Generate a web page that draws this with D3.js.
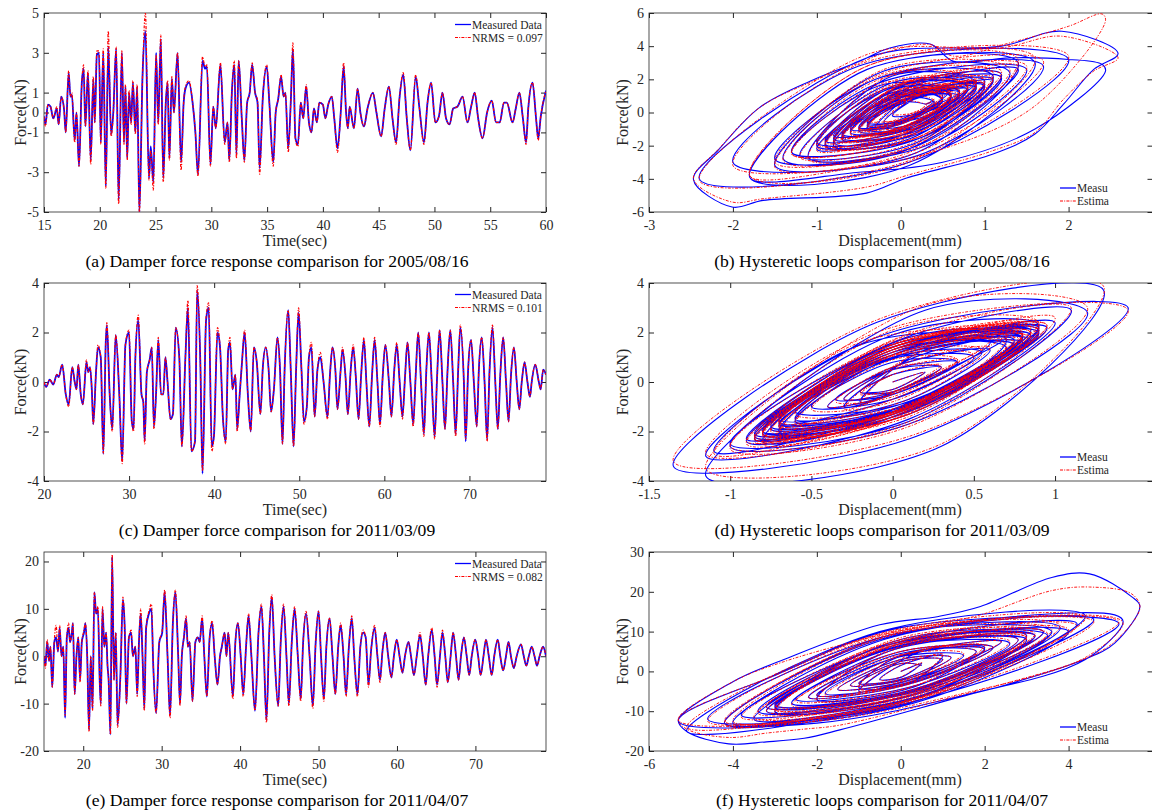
<!DOCTYPE html>
<html>
<head>
<meta charset="utf-8">
<script src="https://cdn.jsdelivr.net/npm/d3@7"></script>
<style>
  body { margin: 0; background: #fff; }
  svg { display: block; }
</style>
</head>
<body>
<svg id="chart" width="1152" height="811"></svg>
<script>
// ---- data: damper force time histories, rows are [time(s), measured kN, estimated kN]
const force0816 = [
[15.00,-0.2,-0.2],[15.13,-0.6,-0.7],[15.35,0.4,0.4],[15.58,0.3,0.3],[15.83,-0.3,-0.3],
[16.15,0.2,0.3],[16.31,-0.6,-0.6],[16.54,0.8,0.8],[16.79,0.2,0.2],[16.95,-1.0,-1.0],
[17.21,2.0,2.1],[17.37,0.8,0.8],[17.50,0.9,1.0],[17.75,-1.4,-1.5],[17.91,0.0,0.0],
[18.14,-2.7,-2.7],[18.39,1.5,1.5],[18.55,2.2,2.4],[18.71,-0.7,-0.7],[18.94,2.0,2.1],
[19.19,-2.4,-2.6],[19.42,1.7,1.8],[19.55,-0.5,-0.5],[19.74,2.9,3.1],[19.93,3.0,3.1],
[20.09,-1.5,-1.6],[20.31,3.0,3.2],[20.54,-3.7,-3.8],[20.76,3.3,4.1],[21.02,-1.1,-1.2],
[21.21,0.0,-0.1],[21.47,3.2,3.3],[21.69,-4.4,-4.6],[21.98,3.0,3.1],[22.17,-1.5,-1.6],
[22.30,1.3,1.4],[22.46,-2.3,-2.4],[22.62,1.0,1.1],[22.81,-0.5,-0.6],[22.97,1.5,1.6],
[23.19,-1.0,-1.1],[23.35,1.3,1.4],[23.55,-5.0,-5.0],[23.83,1.8,1.8],[24.09,4.1,5.0],
[24.41,-3.3,-3.4],[24.57,-1.7,-1.9],[24.80,-3.5,-3.9],[25.05,3.0,2.9],[25.24,-0.5,-0.6],
[25.47,3.7,3.9],[25.69,-3.3,-3.5],[25.92,0.5,0.5],[26.08,1.5,1.6],[26.24,-2.3,-2.4],
[26.46,1.7,1.8],[26.65,0.0,0.0],[26.97,3.0,3.0],[27.29,-2.5,-2.9],[27.52,0.5,0.5],
[27.68,1.2,1.3],[28.00,1.5,1.6],[28.32,0.5,0.5],[28.57,-1.0,-1.0],[28.80,-3.1,-3.2],
[29.21,2.6,2.8],[29.44,2.2,2.3],[29.60,2.3,2.4],[29.92,-2.6,-2.7],[30.17,0.3,0.3],
[30.40,-0.8,-0.8],[30.81,2.4,2.5],[31.20,-1.5,-1.6],[31.45,-0.5,-0.5],[31.61,-2.4,-2.5],
[31.84,1.0,1.0],[32.06,2.4,2.6],[32.25,-2.1,-2.3],[32.45,2.6,2.6],[32.73,-0.3,-0.3],
[32.96,-2.4,-2.5],[33.21,0.5,0.5],[33.44,1.0,1.0],[33.66,2.4,2.5],[33.92,1.0,1.0],
[34.14,0.5,0.6],[34.33,-2.8,-3.1],[34.62,0.8,0.8],[34.97,2.3,2.4],[35.20,0.5,0.5],
[35.55,-2.5,-2.7],[35.77,0.0,0.0],[36.00,0.7,0.7],[36.25,1.8,1.9],[36.48,0.8,0.8],
[36.64,1.0,1.0],[36.89,-1.8,-2.0],[37.12,0.5,0.5],[37.31,3.2,3.5],[37.54,-1.3,-1.4],
[37.76,-1.6,-1.7],[38.02,0.5,0.5],[38.24,-0.3,-0.3],[38.50,1.3,1.4],[38.75,-0.5,-0.5],
[38.98,-1.0,-1.0],[39.20,0.2,0.2],[39.46,-0.5,-0.5],[39.68,0.5,0.5],[40.00,0.4,0.4],
[40.22,-0.3,-0.3],[40.48,0.4,0.4],[40.80,0.8,0.8],[41.02,-0.3,-0.3],[41.31,-1.8,-2.0],
[41.60,0.0,0.0],[41.86,2.3,2.5],[42.08,0.0,0.0],[42.24,-0.8,-0.8],[42.40,0.3,0.3],
[42.78,-0.8,-0.8],[43.11,1.2,1.2],[43.36,0.0,0.0],[43.68,-0.7,-0.7],[44.00,0.2,0.2],
[44.48,1.0,1.0],[44.80,0.0,0.0],[45.22,-1.2,-1.2],[45.54,0.2,0.2],[45.92,1.3,1.3],
[46.24,-0.3,-0.3],[46.56,-1.5,-1.6],[46.88,0.8,0.8],[47.20,1.9,2.0],[47.52,-0.3,-0.3],
[47.84,-1.9,-1.9],[48.32,1.8,1.9],[48.64,0.3,0.3],[49.06,-1.5,-1.6],[49.38,0.5,0.5],
[49.70,1.5,1.5],[50.08,-0.5,-0.5],[50.40,-0.2,-0.2],[50.72,1.0,1.0],[51.04,-0.3,-0.3],
[51.36,-0.6,-0.6],[51.68,0.2,0.2],[52.07,0.3,0.3],[52.52,0.8,0.8],[52.96,-0.5,-0.5],
[53.29,0.3,0.3],[53.61,1.0,1.0],[53.92,-0.3,-0.3],[54.31,-1.3,-1.3],[54.72,0.0,0.0],
[55.14,0.6,0.6],[55.52,-0.5,-0.5],[55.85,-0.5,-0.5],[56.23,0.5,0.5],[56.49,0.5,0.5],
[57.00,-0.5,-0.5],[57.29,0.2,0.2],[57.61,1.0,1.0],[57.93,-0.3,-0.3],[58.21,-1.5,-1.6],
[58.41,0.2,0.2],[58.79,1.5,1.5],[59.11,-0.3,-0.3],[59.30,-1.3,-1.4],[59.53,-0.2,-0.2],
[60.00,1.1,1.1]
];

const force0309 = [
[20.00,0.0,0.0],[20.25,-0.2,-0.2],[20.67,0.1,0.1],[21.09,-0.1,-0.1],[21.51,0.3,0.3],
[21.72,0.2,0.2],[22.14,0.7,0.7],[22.56,-0.5,-0.5],[22.90,-0.9,-1.0],[23.32,0.6,0.6],
[23.61,0.0,0.0],[23.82,-0.3,-0.3],[24.03,0.7,0.7],[24.32,-0.5,-0.5],[24.57,-0.9,-0.9],
[24.99,0.8,0.9],[25.20,0.4,0.4],[25.41,0.6,0.6],[25.62,-0.3,-0.3],[25.79,-1.7,-1.7],
[26.13,0.5,0.5],[26.34,1.4,1.5],[26.67,1.0,1.0],[26.97,-2.9,-2.9],[27.26,1.6,1.6],
[27.39,2.3,2.4],[27.72,-0.5,-0.5],[28.02,-1.9,-2.0],[28.43,1.9,1.9],[28.85,-0.5,-0.5],
[29.19,-3.2,-3.3],[29.57,1.5,1.5],[29.99,2.0,2.1],[30.32,-1.6,-1.6],[30.53,-1.9,-2.0],
[30.74,1.0,1.0],[31.08,2.5,2.7],[31.46,-0.5,-0.5],[31.67,-0.8,-0.8],[31.83,-2.4,-2.5],
[32.09,0.4,0.4],[32.42,0.9,0.9],[32.67,1.4,1.4],[32.92,-1.8,-1.9],[33.18,-0.4,-0.4],
[33.43,1.7,1.8],[33.76,-0.5,-0.5],[34.02,-0.5,-0.5],[34.27,1.0,1.0],[34.52,0.0,0.0],
[34.86,-1.5,-1.5],[35.15,-1.3,-1.3],[35.48,2.2,2.2],[35.90,1.0,1.0],[36.20,-2.6,-2.6],
[36.62,1.0,1.0],[36.91,3.0,3.3],[37.33,-2.8,-2.8],[37.75,-2.4,-2.4],[38.00,3.7,3.9],
[38.38,0.7,0.7],[38.63,-3.7,-3.6],[39.05,2.5,2.6],[39.35,3.0,3.2],[39.72,-2.6,-2.8],
[39.97,-2.2,-2.2],[40.39,2.0,2.2],[40.69,1.4,1.4],[41.02,-1.4,-1.4],[41.36,-2.4,-2.5],
[41.65,1.3,1.3],[41.86,1.6,1.8],[42.16,-0.3,-0.3],[42.49,0.3,0.3],[42.70,-1.9,-2.0],
[43.00,-0.5,-0.5],[43.25,0.7,0.7],[43.58,2.0,2.1],[43.96,-0.5,-0.5],[44.30,-2.0,-2.0],
[44.67,1.4,1.4],[45.01,0.8,0.8],[45.43,-1.3,-1.3],[45.72,0.6,0.6],[46.06,1.4,1.4],
[46.40,0.5,0.5],[46.69,-1.2,-1.2],[47.02,-0.3,-0.3],[47.44,1.8,1.8],[47.74,0.5,0.5],
[48.03,-2.5,-2.5],[48.28,0.5,0.5],[48.70,2.9,2.9],[49.00,0.5,0.5],[49.33,-2.6,-2.6],
[49.63,0.5,0.5],[49.92,2.8,3.0],[50.26,0.5,0.5],[50.55,-1.6,-1.7],[50.89,-1.0,-1.0],
[51.14,1.0,1.0],[51.43,1.4,1.6],[51.81,-1.4,-1.4],[52.14,0.5,0.5],[52.48,1.0,1.2],
[52.86,0.0,0.0],[53.32,-1.4,-1.5],[53.61,0.3,0.3],[53.91,1.4,1.4],[54.24,0.5,0.5],
[54.49,-1.1,-1.1],[54.87,0.5,0.5],[55.08,1.3,1.4],[55.42,0.3,0.3],[55.71,-1.3,-1.3],
[56.05,0.5,0.5],[56.34,1.4,1.5],[56.63,0.3,0.3],[56.97,-1.5,-1.5],[57.26,0.2,0.2],
[57.60,1.7,1.8],[57.89,0.0,0.0],[58.23,-1.8,-1.8],[58.56,0.3,0.3],[58.86,1.7,1.8],
[59.19,0.0,0.0],[59.49,-1.7,-1.8],[59.82,0.3,0.3],[60.12,1.5,1.5],[60.54,0.0,0.0],
[60.83,-1.4,-1.4],[61.17,0.5,0.5],[61.46,1.5,1.6],[61.80,0.0,0.0],[62.13,-1.4,-1.5],
[62.43,0.2,0.2],[62.72,1.6,1.6],[63.06,0.0,0.0],[63.39,-1.7,-1.8],[63.69,0.3,0.3],
[63.98,2.0,2.0],[64.31,0.0,0.0],[64.65,-2.1,-2.2],[64.94,0.5,0.5],[65.24,2.0,2.0],
[65.57,0.0,0.0],[65.91,-2.2,-2.3],[66.20,0.2,0.2],[66.50,2.1,2.1],[66.83,0.0,0.0],
[67.13,-1.9,-1.9],[67.42,0.4,0.4],[67.75,2.1,2.1],[68.09,0.0,0.0],[68.38,-2.1,-2.2],
[68.68,0.5,0.5],[68.93,2.2,2.3],[69.35,0.0,0.0],[69.56,-2.4,-2.3],[69.85,0.5,0.5],
[70.19,1.7,1.7],[70.52,0.0,0.0],[70.86,-1.8,-1.8],[71.11,0.5,0.5],[71.45,1.8,1.8],
[71.78,0.0,0.0],[72.08,-2.3,-2.4],[72.37,0.5,0.5],[72.71,2.2,2.3],[73.04,0.0,0.0],
[73.34,-1.9,-1.9],[73.63,0.3,0.3],[73.97,1.8,1.8],[74.30,0.0,0.0],[74.60,-1.6,-1.6],
[74.89,0.3,0.3],[75.23,1.4,1.4],[75.56,0.0,0.0],[75.86,-1.1,-1.1],[76.15,0.0,0.0],
[76.48,0.8,0.8],[76.82,0.0,0.0],[77.11,-0.6,-0.6],[77.32,0.0,0.0],[77.74,0.7,0.7],
[78.16,0.0,0.0],[78.37,-0.3,-0.3],[78.67,0.5,0.5],[79.00,0.3,0.3]
];

const force0407 = [
[15.00,0,0],[15.18,-2,-2.5],[15.41,3,3.5],[15.64,-1,-1],[15.82,2,2],[16.05,-6.5,-6.5],
[16.32,3,3.5],[16.55,4,6.5],[16.78,1,1],[17.00,6,6.5],[17.23,0,0],[17.46,2,2],
[17.69,-13,-12.5],[17.91,4,4],[18.14,6,7],[18.32,3,3],[18.55,5,5],[18.69,7,7],
[18.91,-8,-8],[19.14,0,0],[19.37,4,4],[19.60,-5,-5.5],[19.82,3,3],[20.10,5,5.5],
[20.28,7,7],[20.51,0,0],[20.74,-15.5,-16],[20.96,0,0],[21.19,-11,-11.5],[21.42,13.5,13.5],
[21.65,9,9],[21.87,10,10.5],[22.10,-5,-5],[22.24,-10,-10.5],[22.46,10,10.5],[22.69,2,2],
[22.92,5,5],[23.10,-2,-2],[23.24,-5,-5],[23.47,-16.5,-16.5],[23.69,21,21.5],[23.92,-5,-5],
[24.15,5,5],[24.38,-14.5,-15],[24.74,-4,-4.5],[25.06,12,12.5],[25.29,6,6],[25.51,-10,-10],
[25.83,4,4],[26.11,5,5.5],[26.33,0,0],[26.65,2,2],[26.88,-8,-8.5],[27.11,3,3],
[27.33,9,10],[27.56,0,0],[27.79,-11,-11.5],[28.02,6,6],[28.38,9,9.5],[28.70,10,11],
[28.93,-2,-2],[29.29,-12,-12],[29.70,3,3],[30.07,5,5.5],[30.38,13.5,14],[30.75,0,0],
[31.07,-12.5,-13],[31.43,7,7],[31.75,13.5,14],[32.11,0,0],[32.34,-10,-10.5],[32.57,0,0],
[32.84,4,4],[33.12,8,8.5],[33.34,2,2],[33.57,3,3],[33.93,-9.5,-9.5],[34.30,3,3],
[34.62,4,4],[34.85,3,3],[35.16,8,8.5],[35.44,0,0],[35.76,-8.5,-8.5],[36.12,4,4],
[36.44,7,7.5],[36.76,0,0],[37.12,-6,-6],[37.44,0,0],[37.67,2,2],[38.03,5,5],
[38.26,0,0],[38.49,5,5],[39.08,-8.5,-9],[39.40,3,3],[39.72,7,7],[40.08,0,0],
[40.40,-8,-8.5],[40.76,2,2],[41.08,8.5,9],[41.44,0,0],[41.90,-11.5,-11.5],[42.35,5,5],
[42.72,10.5,11],[43.04,0,0],[43.36,-13.5,-14],[43.72,5,5],[44.04,12.5,13],[44.40,0,0],
[44.86,-10.5,-10.5],[45.18,3,3],[45.54,10.5,11],[45.91,0,0],[46.22,-10,-10.5],[46.59,3,3],
[46.95,10,10.5],[47.36,0,0],[47.73,-9,-9.5],[48.04,3,3],[48.41,9,9.5],[48.86,0,0],
[49.27,-10.5,-11],[49.64,3,3],[50.00,9.5,9.5],[50.32,0,0],[50.68,-9,-9.5],[51.00,2,2],
[51.41,8,8],[51.78,0,0],[52.14,-8,-8],[52.51,2,2],[52.82,6.5,7],[53.19,0,0],
[53.51,-8,-8.5],[53.87,2,2],[54.24,8,8.5],[54.55,0,0],[54.96,-8,-8.5],[55.33,2,2],
[55.69,5,5.5],[56.01,4,4],[56.37,-6,-6.5],[56.69,1,1],[57.15,6,6.5],[57.51,0,0],
[57.83,-5,-5.5],[58.15,1,1],[58.51,5,5],[58.88,0,0],[59.29,-4.5,-4.5],[59.61,0,0],
[59.97,3.5,3.5],[60.33,0,0],[60.70,-3.5,-3.5],[61.02,0,0],[61.47,3,3],[61.79,0,0],
[62.16,-4,-4],[62.52,0,0],[62.93,4.5,5],[63.29,0,0],[63.66,-6,-6],[63.98,0,0],
[64.43,5.5,6],[64.80,0,0],[65.11,-6,-6.5],[65.48,0,0],[65.80,5,5.5],[66.16,0,0],
[66.48,-5.5,-5.5],[66.84,0,0],[67.16,5,5],[67.53,0,0],[67.85,-5,-5],[68.16,0,0],
[68.53,4,4],[68.89,0,0],[69.21,-4,-4],[69.53,0,0],[69.98,3.5,3.5],[70.35,0,0],
[70.67,-4,-4],[71.03,0,0],[71.35,3.5,3.5],[71.71,0,0],[72.08,-4,-4],[72.40,0,0],
[72.85,3.5,3.5],[73.17,0,0],[73.53,-3,-3],[73.90,0,0],[74.22,3,3],[74.53,0,0],
[74.90,-2.5,-2.5],[75.26,0,0],[75.81,2.5,2.5],[76.17,0,0],[76.49,-2,-2],[76.81,0,0],
[77.18,2,2],[77.54,0,0],[77.86,-2,-2],[78.18,0,0],[78.63,2,2],[79.00,0,0]
];

// ---- data: hysteretic loops, rows are [displacement mm, measured kN, estimated kN]
const loop0816 = [
[0.3,0.5,0.5],
[0.4,0.7,0.8],[0.0,-0.6,-0.5],[-0.5,-0.9,-1.0],[-0.1,0.6,0.7],
[0.6,1.0,1.1],[0.1,-0.9,-0.8],[-0.7,-1.3,-1.4],[-0.1,0.9,1.0],
[1.0,1.6,1.7],[0.2,-1.3,-1.2],[-1.0,-1.8,-1.9],[-0.2,1.3,1.4],
[1.2,2.1,2.3],[0.2,-1.6,-1.5],[-1.3,-2.4,-2.5],[-0.3,1.7,1.9],
[1.5,2.6,2.8],[0.3,-2.0,-1.9],[-1.5,-2.8,-3.0],[-0.3,2.0,2.2],
[1.7,2.8,3.1],[0.2,-2.6,-2.4],[-2.0,-3.0,-3.2],[-0.5,2.8,2.9],
[2.0,3.2,3.4],[0.1,-3.0,-2.9],[-2.4,-4.0,-4.1],[-0.4,3.3,3.5],
[1.2,4.0,3.9],[1.92,4.9,4.6],[2.59,3.55,3.3],[2.3,2.6,2.5],[1.94,0.5,0.8],[1.6,-1.3,-1.2],
[1.1,-2.5,-2.3],[0.07,-3.95,-3.8],[-0.41,-4.86,-4.5],[-1.64,-5.3,-5.2],[-2.01,-5.7,-5.4],
[-2.47,-4.05,-4.0],[-2.17,-2.24,-2.2],[-1.68,0.31,0.3],[-1.04,1.98,1.9],[-0.49,3.09,3.0],
[-0.13,3.89,3.7],[0.35,4.13,4.1],[0.63,3.09,3.4],[1.3,3.3,4.2],[2.0,3.2,5.2],
[2.4,2.9,5.94],[2.44,2.5,5.54],[1.6,-1.0,0.4],[0.5,-3.0,-2.2],[-0.5,-3.6,-3.3],
[-1.8,-3.9,-3.8],[-0.4,2.6,2.8],
[1.6,3.0,3.3],[0.1,-3.2,-3.0],[-1.8,-3.9,-3.8],[-0.4,2.6,2.8],
[1.4,3.0,3.2],[0.2,-2.4,-2.2],[-1.5,-3.2,-3.3],[-0.2,2.5,2.6],
[1.3,2.4,2.6],[0.0,-2.4,-2.3],[-1.4,-2.8,-2.9],[-0.3,2.0,2.1],
[1.1,2.2,2.4],[0.2,-1.8,-1.7],[-1.2,-2.6,-2.7],[-0.1,1.8,1.9],
[0.9,1.6,1.7],[0.1,-1.4,-1.3],[-1.0,-2.0,-2.1],[-0.2,1.4,1.5],
[1.0,1.9,2.0],[0.1,-1.6,-1.5],[-0.9,-2.0,-2.1],[0.0,1.6,1.7],
[1.2,2.3,2.5],[0.3,-1.4,-1.3],[-0.8,-2.0,-2.1],[0.1,1.8,1.9],
[0.8,1.5,1.6],[0.1,-1.2,-1.1],[-0.7,-1.6,-1.7],[0.0,1.3,1.4],
[1.4,2.6,2.8],[0.2,-2.0,-1.9],[-1.1,-2.7,-2.8],[-0.1,2.2,2.3],
[0.9,1.8,1.9],[0.0,-1.4,-1.4],[-1.0,-2.2,-2.3],[0.0,1.5,1.6],
[0.7,1.2,1.3],[0.1,-1.0,-0.9],[-0.8,-1.6,-1.7],[-0.1,1.0,1.1],
[1.1,2.0,2.1],[0.2,-1.6,-1.5],[-1.3,-2.4,-2.5],[-0.2,1.7,1.8],
[0.6,1.0,1.1],[0.0,-1.0,-0.9],[-0.6,-1.2,-1.3],[0.0,0.9,1.0],
[0.8,1.4,1.5],[0.2,-0.8,-0.8],[-0.4,-1.0,-1.1],[0.1,1.2,1.3],
[0.5,0.8,0.9],[0.0,-0.7,-0.7],[-0.6,-1.0,-1.1],[-0.1,0.7,0.8],
[0.9,1.5,1.6],[0.2,-1.1,-1.0],[-0.7,-1.5,-1.6],[0.0,1.3,1.4],
[0.6,0.9,1.0],[0.0,-0.9,-0.9],[-0.8,-1.4,-1.5],[-0.1,0.8,0.9],
[0.7,1.3,1.4],[0.2,-0.8,-0.7],[-0.5,-1.1,-1.2],[0.1,1.1,1.2],
[1.0,1.7,1.8],[0.1,-1.2,-1.1],[-0.9,-1.9,-2.0],[-0.1,1.5,1.6],
[0.5,1.0,1.1],[0.1,-0.5,-0.5],[-0.4,-0.8,-0.9],[0.1,0.8,0.9],
[0.8,1.4,1.5],[0.0,-1.1,-1.0],[-0.9,-1.7,-1.8],[-0.1,1.2,1.3],
[0.6,1.1,1.2],[0.2,-0.6,-0.6],[-0.5,-0.9,-1.0],[0.1,0.9,1.0],
[1.1,1.9,2.0],[0.2,-1.3,-1.2],[-0.8,-1.8,-1.9],[0.0,1.6,1.7],
[0.8,1.6,1.7],[0.3,-0.2,-0.1],[-0.2,-0.6,-0.5],[0.3,1.2,1.3],
[0.7,1.2,1.3],[0.2,0.0,0.1],[-0.3,-0.9,-0.8],[0.1,0.9,1.0],
[0.9,1.8,1.9],[0.4,0.2,0.3],[-0.1,-0.2,-0.1],[0.4,1.4,1.5],
[0.6,1.4,1.5],[0.1,-0.4,-0.3],[-0.4,-0.6,-0.5],[0.2,1.0,1.1],
[0.7,1.0,1.1],[0.0,-0.9,-0.9],[-0.7,-1.4,-1.5],[-0.1,0.9,1.0],
[0.4,0.6,0.7],[0.0,-0.5,-0.5],[-0.4,-0.7,-0.8],[0.0,0.5,0.6],
[0.9,1.6,1.7],[0.2,-0.9,-0.9],[-0.6,-1.2,-1.3],[0.1,1.3,1.4],
[0.5,0.7,0.8],[0.0,-0.6,-0.6],[-0.5,-0.9,-1.0],[0.0,0.6,0.7],
[0.3,0.5,0.5]
];

const loop0309 = [
[0.0,0.0,0.0],
[0.2,0.4,0.4],[0.0,-0.3,-0.3],[-0.2,-0.4,-0.5],[0.0,0.3,0.3],
[0.3,0.6,0.7],[0.0,-0.4,-0.4],[-0.3,-0.7,-0.7],[0.0,0.5,0.5],
[0.4,0.8,0.9],[0.0,-0.5,-0.5],[-0.4,-1.0,-1.0],[0.0,0.6,0.6],
[0.6,1.3,1.4],[0.1,-0.7,-0.7],[-0.6,-1.5,-1.6],[-0.1,0.8,0.9],
[0.5,1.0,1.1],[0.0,-0.7,-0.7],[-0.7,-1.7,-1.8],[-0.1,0.7,0.8],
[0.8,1.8,1.9],[0.1,-0.9,-1.0],[-0.9,-2.3,-2.4],[-0.1,1.2,1.3],
[0.9,2.2,2.4],[0.0,-1.2,-1.3],[-1.1,-2.8,-2.9],[-0.2,1.5,1.6],
[0.7,1.7,1.8],[0.1,-1.0,-1.0],[-0.8,-2.0,-2.1],[0.0,1.1,1.2],
[1.0,2.4,2.6],[0.1,-1.5,-1.6],[-1.15,-3.0,-2.9],[-0.1,1.8,2.0],
[1.45,3.0,2.9],[0.1,-2.3,-2.2],[-1.35,-3.4,-3.2],[-0.1,2.4,2.5],
[1.3,3.7,3.85],[0.3,-2.6,-2.5],[-1.15,-3.8,-3.5],[0.2,2.9,3.1],
[1.2,2.8,3.0],[0.1,-1.7,-1.8],[-1.0,-2.6,-2.7],[0.0,1.9,2.1],
[0.9,2.3,2.4],[0.0,-1.4,-1.5],[-0.9,-2.4,-2.5],[0.0,1.6,1.7],
[1.1,2.9,3.0],[0.1,-1.6,-1.7],[-1.0,-2.5,-2.6],[0.1,1.8,1.9],
[0.8,1.9,2.0],[0.0,-1.2,-1.3],[-0.7,-2.0,-2.1],[0.0,1.3,1.4],
[0.7,1.4,1.5],[0.1,-0.9,-1.0],[-0.6,-1.6,-1.7],[0.0,1.0,1.1],
[0.8,1.6,1.7],[0.0,-1.0,-1.1],[-0.7,-1.5,-1.6],[0.0,1.1,1.2],
[0.75,1.7,1.8],[0.05,-1.0,-1.1],[-0.7,-1.8,-1.9],[0.0,1.2,1.3],
[0.8,1.8,1.9],[0.05,-1.1,-1.2],[-0.75,-1.8,-1.9],[0.0,1.2,1.3],
[0.85,1.7,1.8],[0.1,-1.0,-1.1],[-0.7,-1.7,-1.8],[0.05,1.1,1.2],
[0.8,1.9,2.0],[0.0,-1.1,-1.2],[-0.8,-2.0,-2.1],[0.0,1.3,1.4],
[0.9,2.0,2.1],[0.1,-1.2,-1.3],[-0.8,-2.1,-2.2],[0.0,1.3,1.4],
[0.85,2.1,2.2],[0.0,-1.3,-1.4],[-0.85,-2.2,-2.3],[0.0,1.4,1.5],
[0.9,2.1,2.2],[0.1,-1.2,-1.3],[-0.85,-2.1,-2.2],[0.0,1.3,1.4],
[0.95,2.2,2.3],[0.0,-1.3,-1.4],[-0.8,-2.0,-2.1],[0.0,1.4,1.5],
[0.9,2.0,2.1],[0.1,-1.2,-1.3],[-0.85,-2.2,-2.3],[0.0,1.3,1.4],
[0.95,2.2,2.3],[0.05,-1.3,-1.4],[-0.8,-2.4,-2.5],[-0.05,1.4,1.5],
[0.8,1.8,1.9],[0.0,-1.1,-1.2],[-0.75,-1.9,-2.0],[0.0,1.2,1.3],
[0.85,1.9,2.0],[0.05,-1.2,-1.3],[-0.85,-2.3,-2.4],[0.0,1.3,1.4],
[0.9,2.2,2.3],[0.1,-1.3,-1.4],[-0.8,-2.0,-2.1],[0.0,1.4,1.5],
[0.85,1.9,2.0],[0.0,-1.2,-1.3],[-0.7,-1.6,-1.7],[0.0,1.2,1.3],
[0.6,1.6,1.7],[0.2,0.0,0.1],[-0.3,-1.0,-1.1],[0.1,0.9,1.0],
[0.7,1.8,1.9],[0.3,0.4,0.5],[-0.2,-0.8,-0.9],[0.2,1.3,1.4],
[0.75,1.5,1.6],[0.05,-0.9,-1.0],[-0.6,-1.2,-1.3],[0.0,1.0,1.1],
[0.55,1.2,1.3],[0.0,-0.7,-0.8],[-0.5,-1.0,-1.1],[0.0,0.8,0.9],
[0.4,0.8,0.9],[0.0,-0.5,-0.6],[-0.35,-0.7,-0.8],[0.0,0.5,0.6],
[0.3,0.6,0.6],[0.0,-0.4,-0.4],[-0.2,-0.4,-0.4],[0.0,0.3,0.3]
];

const loop0407 = [
[0.0,0.0,0.0],
[0.5,2.0,2.2],[0.0,-1.5,-1.4],[-0.5,-2.0,-2.2],[0.0,1.5,1.6],
[1.0,4.0,4.3],[0.2,-3.0,-2.8],[-1.0,-4.0,-4.3],[-0.2,3.0,3.2],
[2.0,6.0,6.5],[0.3,-4.0,-3.8],[-2.0,-7.0,-7.3],[-0.3,5.0,5.3],
[3.0,8.0,8.5],[0.5,-6.0,-5.7],[-3.0,-10.0,-10.4],[-0.5,6.0,6.4],
[4.0,10.0,10.5],[0.3,-8.0,-7.5],[-4.2,-13.0,-13.2],[-0.5,8.0,8.6],
[5.1,14.2,13.5],[5.3,12.5,12.0],[4.4,3.0,3.5],[1.5,-6.0,-5.5],[-2.0,-13.0,-12.5],
[-5.3,-12.5,-12.2],[-4.0,-2.6,-2.6],[-2.8,2.9,2.4],[-0.5,11.7,9.1],[0.9,13.8,12.0],
[1.9,16.3,14.2],[3.6,23.6,20.3],[4.5,24.5,21.2],[5.5,18.8,19.5],[5.7,16.4,16.0],
[5.1,7.1,7.5],[4.35,2.9,3.0],[2.5,-3.4,-3.0],[1.6,-5.9,-5.5],[-1.45,-14.7,-13.5],
[-2.3,-16.8,-14.5],[-3.2,-17.7,-15.5],[-4.1,-18.2,-16.6],[-5.1,-15.1,-14.5],[-5.3,-12.2,-12.0],
[-3.0,-1.0,-1.0],[0.0,11.0,10.5],
[5.2,12.0,12.5],[0.5,-7.0,-6.5],[-5.1,-15.0,-14.0],[-0.5,10.0,9.5],
[4.4,14.0,13.5],[0.2,-8.0,-7.5],[-4.6,-12.0,-12.5],[-0.3,9.0,9.5],
[3.8,11.0,11.5],[0.3,-7.0,-7.0],[-4.0,-13.0,-12.5],[-0.4,8.0,8.5],
[4.6,13.0,12.5],[0.5,-6.0,-6.5],[-3.5,-12.0,-11.5],[0.0,8.0,8.5],
[3.5,9.0,9.5],[0.3,-6.0,-6.0],[-3.8,-11.0,-11.5],[-0.2,7.0,7.5],
[4.2,12.0,11.5],[0.2,-7.0,-7.0],[-4.2,-13.0,-12.5],[-0.3,9.0,9.0],
[3.6,10.0,10.5],[0.4,-5.0,-5.5],[-3.0,-9.0,-9.5],[0.0,7.0,7.5],
[3.0,9.0,9.0],[0.3,-5.0,-5.5],[-3.2,-10.0,-10.0],[-0.2,6.0,6.5],
[3.4,10.0,10.0],[0.2,-6.0,-6.0],[-3.4,-10.0,-10.5],[-0.2,7.0,7.0],
[3.2,9.0,9.5],[0.3,-5.0,-5.0],[-3.0,-9.0,-9.5],[0.0,6.5,7.0],
[3.0,8.0,8.5],[0.2,-5.0,-5.0],[-3.2,-9.0,-9.0],[-0.2,6.0,6.5],
[2.8,8.0,8.0],[0.3,-4.5,-4.5],[-2.6,-8.0,-8.5],[0.0,6.0,6.0],
[3.2,9.0,9.0],[0.2,-5.0,-5.5],[-3.0,-8.5,-8.5],[-0.1,6.0,6.5],
[2.6,7.0,7.5],[0.2,-4.0,-4.0],[-2.5,-7.0,-7.5],[0.0,5.0,5.0],
[2.2,6.0,6.0],[0.1,-3.5,-3.5],[-2.2,-6.5,-6.5],[0.0,4.5,5.0],
[2.0,5.5,5.5],[0.2,-3.0,-3.0],[-1.8,-5.5,-6.0],[0.0,4.0,4.0],
[2.4,7.5,7.5],[1.0,0.5,1.0],[-1.0,-5.0,-5.0],[0.5,5.0,5.5],
[1.8,5.0,5.0],[0.1,-3.0,-3.0],[-2.0,-6.0,-6.0],[-0.1,3.5,4.0],
[1.5,4.0,4.5],[0.1,-2.5,-2.5],[-1.5,-4.5,-4.5],[0.0,3.0,3.0],
[1.2,3.5,3.5],[0.1,-2.0,-2.0],[-1.2,-3.5,-3.5],[0.0,2.5,2.5],
[1.0,3.0,3.0],[0.0,-2.0,-2.0],[-1.0,-3.0,-3.0],[0.0,2.0,2.0],
[0.5,1.5,1.5]
];

// ---- axis ticks, labels, captions
const timeTicks0816 = [15, 20, 25, 30, 35, 40, 45, 50, 55, 60];
const timeTicksLong = [20, 30, 40, 50, 60, 70];
const forceTicks0816 = [-5, -3, -1, 0, 1, 3, 5];
const forceTicks0309 = [-4, -2, 0, 2, 4];
const forceTicks0407 = [-20, -10, 0, 10, 20];
const dispTicks0816 = [-3, -2, -1, 0, 1, 2];
const dispTicks0309 = [-1.5, -1, -0.5, 0, 0.5, 1];
const dispTicks0407 = [-6, -4, -2, 0, 2, 4];
const loopForceTicks0816 = [-6, -4, -2, 0, 2, 4, 6];
const loopForceTicks0407 = [-20, -10, 0, 10, 20, 30];
const nrms = ['0.097', '0.101', '0.082'];
const captions = [
  '(a) Damper force response comparison for 2005/08/16',
  '(b) Hysteretic loops comparison for 2005/08/16',
  '(c) Damper force comparison for 2011/03/09',
  '(d) Hysteretic loops comparison for 2011/03/09',
  '(e) Damper force response comparison for 2011/04/07',
  '(f) Hysteretic loops comparison for 2011/04/07'
];

// ---- rendering
const stage = d3.select('#chart');
const ink = '#262626';
const serif = '"Liberation Serif", "Times New Roman", serif';
const blue = '#0000ff';
const red = '#ff0000';

// Layout of the six plot boxes
const rows = [{ top: 13, bottom: 212 }, { top: 283, bottom: 481 }, { top: 552, bottom: 751 }];
const leftCol = { left: 44, right: 546 };
const rightCol = { left: 649, right: 1152.5 };

// Build a framed axes box with inward ticks on all sides
function axes (box, xDom, yDom, xTicks, yTicks, key) {
  const x = d3.scaleLinear().domain(xDom).range([box.left, box.right]);
  const y = d3.scaleLinear().domain(yDom).range([box.bottom, box.top]);
  stage.append('clipPath').attr('id', 'clip-' + key)
    .append('rect')
    .attr('x', box.left).attr('y', box.top)
    .attr('width', box.right - box.left).attr('height', box.bottom - box.top);

  const g = stage.append('g');
  const fmt = d => String(d);
  const sides = [
    [d3.axisBottom(x).tickValues(xTicks).tickFormat(fmt).tickPadding(8), 0, box.bottom],
    [d3.axisTop(x).tickValues(xTicks).tickFormat(''), 0, box.top],
    [d3.axisLeft(y).tickValues(yTicks).tickFormat(fmt).tickPadding(5), box.left, 0],
    [d3.axisRight(y).tickValues(yTicks).tickFormat(''), box.right, 0]
  ];
  sides.forEach(([a, tx, ty]) => {
    const s = g.append('g')
      .attr('transform', `translate(${tx},${ty})`)
      .call(a.tickSize(-5))
      .attr('font-family', serif)
      .attr('font-size', 14);
    s.select('.domain').remove();
    s.selectAll('line').attr('stroke', ink);
    s.selectAll('text').attr('fill', ink);
  });
  g.append('rect')
    .attr('x', box.left).attr('y', box.top)
    .attr('width', box.right - box.left).attr('height', box.bottom - box.top)
    .attr('fill', 'none').attr('stroke', ink).attr('stroke-width', 0.8);
  return { x, y, g, clip: `url(#clip-${key})`, box };
}

// Measured (blue solid) then estimated (red dash-dot) on top
function drawPair (ax, data, curve, kind) {
  const layer = stage.append('g').attr('clip-path', ax.clip);
  const meas = d3.line().x(d => ax.x(d[0])).y(d => ax.y(d[1])).curve(curve);
  const est = d3.line().x(d => ax.x(d[0])).y(d => ax.y(d[2])).curve(curve);
  layer.append('path').datum(data).attr('d', meas)
    .attr('fill', 'none').attr('stroke', blue)
    .attr('stroke-width', kind === 'time' ? 1.8 : 1.1)
    .attr('stroke-linejoin', 'round');
  layer.append('path').datum(data).attr('d', est)
    .attr('fill', 'none').attr('stroke', red)
    .attr('stroke-width', kind === 'time' ? 1.2 : 0.9)
    .attr('stroke-dasharray', '3,1.5,1.2,1.5');
}

function legend (x0, y0, labels, size) {
  const g = stage.append('g').attr('font-family', serif).attr('font-size', size);
  labels.forEach((txt, i) => {
    const yy = y0 + i * 13;
    g.append('line').attr('x1', x0).attr('x2', x0 + 16).attr('y1', yy).attr('y2', yy)
      .attr('stroke', i === 0 ? blue : red)
      .attr('stroke-width', i === 0 ? 1.3 : 1)
      .attr('stroke-dasharray', i === 0 ? null : '3,1.2,1,1.2');
    g.append('text').attr('x', x0 + 17).attr('y', yy).attr('dy', '0.35em')
      .attr('fill', ink).text(txt);
  });
}

function labels (ax, xLabel, caption, yLabelX, capX, xLabelX) {
  const b = ax.box;
  const midY = (b.top + b.bottom) / 2;
  stage.append('text')
    .attr('transform', `translate(${yLabelX},${midY}) rotate(-90)`)
    .attr('text-anchor', 'middle').attr('dy', '0.35em')
    .attr('font-family', serif).attr('font-size', 16).attr('fill', ink)
    .text('Force(kN)');
  stage.append('text')
    .attr('x', xLabelX).attr('y', b.bottom + 34)
    .attr('text-anchor', 'middle')
    .attr('font-family', serif).attr('font-size', 16).attr('fill', ink)
    .text(xLabel);
  stage.append('text')
    .attr('x', capX).attr('y', b.bottom + 55)
    .attr('text-anchor', 'middle')
    .attr('font-family', serif).attr('font-size', 17.6).attr('fill', '#000')
    .text(caption);
}

const timePanels = [
  [force0816, [15, 60], [-5, 5], timeTicks0816, forceTicks0816],
  [force0309, [20, 79], [-4, 4], timeTicksLong, forceTicks0309],
  [force0407, [15, 79], [-20, 22], timeTicksLong, forceTicks0407]
];
const loopPanels = [
  [loop0816, [-3, 3], [-6, 6], dispTicks0816, loopForceTicks0816],
  [loop0309, [-1.5, 1.6], [-4, 4], dispTicks0309, forceTicks0309],
  [loop0407, [-6, 6], [-20, 30], dispTicks0407, loopForceTicks0407]
];

timePanels.forEach(([data, xd, yd, xt, yt], i) => {
  const box = Object.assign({}, leftCol, rows[i]);
  const ax = axes(box, xd, yd, xt, yt, 't' + i);
  drawPair(ax, data, d3.curveMonotoneX, 'time');
  legend(455, box.top + 11.5, ['Measured Data', 'NRMS = ' + nrms[i]], 11.5);
  labels(ax, 'Time(sec)', captions[i * 2], 20, 277, 295);
});

loopPanels.forEach(([data, xd, yd, xt, yt], i) => {
  const box = Object.assign({}, rightCol, rows[i]);
  const ax = axes(box, xd, yd, xt, yt, 'h' + i);
  drawPair(ax, data, d3.curveCatmullRom.alpha(0.5), 'loop');
  legend(1060, box.bottom - 24, ['Measu', 'Estima'], 11.5);
  labels(ax, 'Displacement(mm)', captions[i * 2 + 1], 622, 882, 900);
});
</script>
</body>
</html>
